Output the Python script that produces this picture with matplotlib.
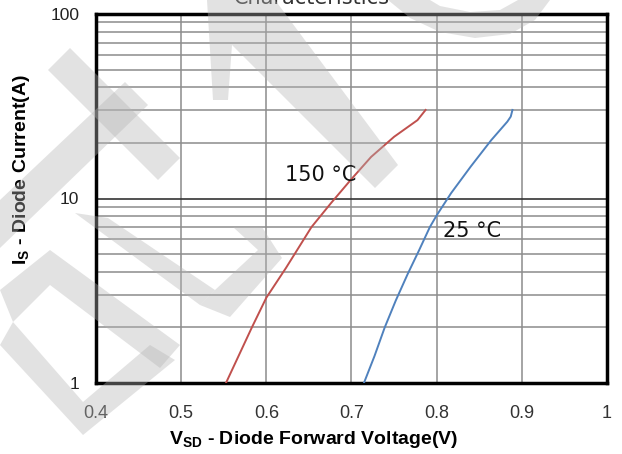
import matplotlib
matplotlib.use("Agg")
import matplotlib.pyplot as plt
from matplotlib.patches import Polygon
from matplotlib.ticker import FixedLocator, NullFormatter

plt.rcParams['mathtext.fontset'] = 'custom'
plt.rcParams['mathtext.rm'] = 'Liberation Sans'
plt.rcParams['mathtext.bf'] = 'Liberation Sans:bold'

# forward diode curves, Is (A) vs Vsd (V)
v_150 = [0.5526, 0.583, 0.600, 0.623, 0.653, 0.676, 0.699, 0.723, 0.750, 0.7775, 0.787]
i_150 = [1.0, 2.0, 2.9, 4.2, 7.0, 9.45, 12.6, 16.8, 21.6, 26.6, 30.2]

v_25 = [0.7146, 0.727, 0.739, 0.752, 0.766, 0.779, 0.792, 0.800, 0.817, 0.840, 0.864, 0.883, 0.887, 0.889]
i_25 = [1.0, 1.4, 2.0, 2.8, 3.9, 5.2, 7.0, 8.1, 10.7, 14.9, 20.7, 26.1, 27.8, 30.2]

x_ticks = [0.4, 0.5, 0.6, 0.7, 0.8, 0.9, 1.0]
x_labels = ['0.4', '0.5', '0.6', '0.7', '0.8', '0.9', '1']
y_ticks = [1, 10, 100]
y_labels = ['1', '10', '100']
minor_y = [2, 3, 4, 5, 6, 7, 8, 9, 20, 30, 40, 50, 60, 70, 80, 90]

W, H = 622, 454
fig = plt.figure(figsize=(W / 100, H / 100), dpi=100)
ax = fig.add_axes([96 / W, 1 - 383 / H, (607 - 96) / W, (383 - 14) / H])

ax.set_yscale('log')
ax.set_xlim(0.4, 1.0)
ax.set_ylim(1, 100)

grid_col = '#8c8c8c'
for x in x_ticks[1:-1]:
    ax.axvline(x, color=grid_col, lw=1.1, zorder=1)
for y in minor_y:
    ax.axhline(y, color=grid_col, lw=1.1, zorder=1)
ax.axhline(10, color='#333333', lw=1.2, zorder=1)

ax.plot(v_150, i_150, color='#c0504d', lw=1.4, zorder=3)
ax.plot(v_25, i_25, color='#4f81bd', lw=1.4, zorder=3)

ax.text(0.622, 12.4, '150 °C', fontsize=15, color='#111111', ha='left', va='baseline',
        family='DejaVu Sans')
ax.text(0.807, 6.2, '25 °C', fontsize=15, color='#111111', ha='left', va='baseline',
        family='DejaVu Sans')

ax.xaxis.set_major_locator(FixedLocator(x_ticks))
ax.set_xticklabels(x_labels)
ax.yaxis.set_major_locator(FixedLocator(y_ticks))
ax.yaxis.set_minor_locator(FixedLocator(minor_y))
ax.yaxis.set_minor_formatter(NullFormatter())
ax.set_yticklabels(y_labels)
ax.tick_params(which='both', length=0)
ax.tick_params(axis='x', pad=16, labelsize=13, labelcolor='#333333')
ax.tick_params(axis='y', pad=12, labelsize=12.5, labelcolor='#222222')
for lab in ax.get_xticklabels() + ax.get_yticklabels():
    lab.set_family('Liberation Sans')

for s in ax.spines.values():
    s.set_linewidth(2.5)
    s.set_color('black')

fig.text(314 / W, 1 - 440 / H, r'$\mathbf{V_{SD}}$ - Diode Forward Voltage(V)',
         fontsize=14, fontweight='bold', family='Liberation Sans', ha='center', va='center')
fig.text(22 / W, 1 - 170 / H, r'$\mathbf{I_{S}}$ - Diode Current(A)',
         fontsize=14, fontweight='bold', family='Liberation Sans', ha='center', va='center',
         rotation=90)
fig.text(312 / W, 1 - 4 / H, 'Characteristics', fontsize=15, color='#333333',
         family='DejaVu Sans', ha='center', va='baseline')

# light grey logo stamped over the chart
def px(pts):
    return [(x / W, 1 - y / H) for x, y in pts]

stamp = [
    [(48, 70), (70, 48), (180, 158), (158, 180)],
    [(0, 200), (125, 82), (148, 105), (0, 248)],
    [(0, 290), (50, 250), (180, 345), (160, 368), (50, 285), (13, 322)],
    [(0, 345), (13, 322), (83, 402), (83, 435)],
    [(83, 402), (150, 345), (175, 360), (83, 435)],
    [(207, 0), (275, 0), (398, 165), (375, 188), (232, 45), (228, 100), (213, 100)],
    [(388, 0), (410, 18), (440, 32), (475, 38), (510, 34), (535, 20), (550, 0),
     (518, 0), (500, 10), (470, 12), (440, 6), (430, 0)],
    [(75, 213), (108, 218), (215, 290), (200, 305)],
    [(200, 305), (215, 290), (258, 250), (233, 227), (262, 227), (282, 258), (230, 317)],
]
for poly in stamp:
    fig.patches.append(Polygon(px(poly), closed=True, transform=fig.transFigure,
                               facecolor='#b4b4b4', edgecolor='none', alpha=0.38,
                               zorder=10))

fig.savefig('out.png', dpi=100)
